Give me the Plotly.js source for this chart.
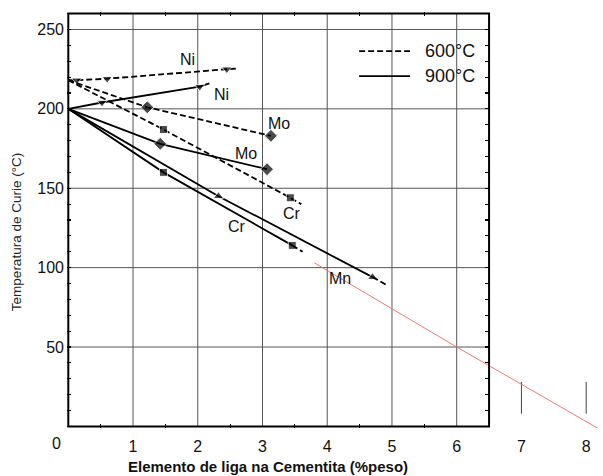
<!DOCTYPE html>
<html>
<head>
<meta charset="utf-8">
<script src="https://cdn.plot.ly/plotly-3.0.1.min.js"></script>
<style>html,body{margin:0;padding:0;background:#fff;}#chart{width:603px;height:476px;}</style>
</head>
<body>
<div id="chart"></div>
<script>
// ---- data ----
// 600 °C series (dashed)
const ni600X = [0, 0.13, 0.6, 2.45, 2.62];
const ni600Y = [218, 218, 219, 225, 225.5];
const ni600M = [0, 9, 9, 9, 0];
const mo600X = [0, 1.22, 3.13];
const mo600Y = [218, 201, 183];
const mo600M = [0, 10, 10];
const cr600X = [0, 1.47, 3.43, 3.6];
const cr600Y = [218, 187, 144, 140];
const cr600M = [0, 8, 8, 0];
// 900 °C series (solid)
const ni900X = [0, 0.52, 2.03, 2.18];
const ni900Y = [200, 204, 214, 216];
const ni900M = [0, 9, 9, 0];
const mo900X = [0, 1.42, 3.07];
const mo900Y = [200, 178, 162];
const mo900M = [0, 10, 10];
const cr900X = [0, 1.47, 3.46];
const cr900Y = [200, 160, 114];
const cr900M = [0, 8, 8];
const cr900TailX = [3.46, 3.62];
const cr900TailY = [114, 110];
const mn900X = [0, 2.32, 4.7];
const mn900Y = [200, 145, 94];
const mn900M = [0, 9, 9];
const mn900TailX = [4.7, 4.92];
const mn900TailY = [94, 89];
// red extrapolation line
const redX = [3.8, 6.0, 8.3];
const redY = [103, 50, -4];
// element labels
const labelText = ["Ni", "Ni", "Mo", "Mo", "Cr", "Cr", "Mn"];
const labelX = [1.84, 2.36, 3.25, 2.74, 3.45, 2.6, 4.2];
const labelY = [231, 209, 191, 172, 134, 126, 93];
// axes
const xTickVals = [1, 2, 3, 4, 5, 6, 7, 8];
const xTickText = ["1", "2", "3", "4", "5", "6", "7", "8"];
const xMinor = [0.5, 1.5, 2.5, 3.5, 4.5, 5.5];
const yTickVals = [50, 100, 150, 200, 250];
const yTickText = ["50", "100", "150", "200", "250"];
const gridX = [1, 2, 3, 4, 5, 6];
const gridY = [50, 100, 150, 200, 250];
const frameX = [0, 6.5];
const frameY = [0, 260];
const stubX = [7, 8];
const legendNames = ["600°C", "900°C"];

// ---- styling ----
const FONT = "Liberation Sans, Arial, sans-serif";
const DASH = "6px,3px";
const LW = 1.8;

function series(x, y, msize, symbol, dash) {
  return {
    x: x, y: y, type: "scatter", mode: "lines+markers",
    line: {color: "#000", width: LW, dash: dash},
    marker: {symbol: symbol, size: msize, color: "#000"},
    showlegend: false, hoverinfo: "x+y", cliponaxis: false
  };
}

const traces = [
  series(ni600X, ni600Y, ni600M, "triangle-down", DASH),
  series(mo600X, mo600Y, mo600M, "diamond", DASH),
  series(cr600X, cr600Y, cr600M, "square", DASH),
  series(ni900X, ni900Y, ni900M, "triangle-down", "solid"),
  series(mo900X, mo900Y, mo900M, "diamond", "solid"),
  series(cr900X, cr900Y, cr900M, "square", "solid"),
  series(mn900X, mn900Y, mn900M, "triangle-up", "solid"),
  {x: cr900TailX, y: cr900TailY, type: "scatter", mode: "lines",
   line: {color: "#000", width: LW, dash: DASH}, showlegend: false},
  {x: mn900TailX, y: mn900TailY, type: "scatter", mode: "lines",
   line: {color: "#000", width: LW, dash: DASH}, showlegend: false},
  {x: redX, y: redY, type: "scatter", mode: "lines",
   line: {color: "#e8797a", width: 1}, showlegend: false},
  // dummy trace so the mirror axes (top / right frame ticks) exist
  {x: [null], y: [null], xaxis: "x2", yaxis: "y2", type: "scatter",
   mode: "lines", showlegend: false, hoverinfo: "skip"}
];

const shapes = [];
gridX.forEach(function (gx) {
  shapes.push({type: "line", xref: "x", yref: "y", x0: gx, x1: gx,
    y0: frameY[0], y1: frameY[1], line: {color: "#555", width: 1}, layer: "below"});
});
gridY.forEach(function (gy) {
  shapes.push({type: "line", xref: "x", yref: "y", x0: frameX[0], x1: frameX[1],
    y0: gy, y1: gy, line: {color: "#555", width: 1}, layer: "below"});
});
stubX.forEach(function (sx) {
  shapes.push({type: "line", xref: "x", yref: "y", x0: sx, x1: sx,
    y0: 8, y1: 28, line: {color: "#444", width: 1}, layer: "below"});
});
// legend background (covers grid)
shapes.push({type: "rect", xref: "paper", yref: "paper", x0: 0.509, x1: 0.782,
  y0: 0.805, y1: 0.952, fillcolor: "#fff", line: {width: 0}, layer: "below"});
// legend line samples
shapes.push({type: "line", xref: "paper", yref: "paper", x0: 0.545, x1: 0.640,
  y0: 0.906, y1: 0.906, line: {color: "#000", width: LW, dash: DASH}});
shapes.push({type: "line", xref: "paper", yref: "paper", x0: 0.545, x1: 0.640,
  y0: 0.846, y1: 0.846, line: {color: "#000", width: LW}});
// plot frame
shapes.push({type: "rect", xref: "x", yref: "y", x0: frameX[0], x1: frameX[1],
  y0: frameY[0], y1: frameY[1], line: {color: "#000", width: 2}, layer: "above"});

const annotations = labelText.map(function (t, i) {
  return {x: labelX[i], y: labelY[i], xref: "x", yref: "y", text: t,
    xanchor: "center", yanchor: "middle",
    showarrow: false, font: {family: FONT, size: 16, color: "#111"}};
});
annotations.push({x: 0, y: 0, xref: "x", yref: "y", text: "0", showarrow: false,
  xanchor: "center", yanchor: "middle",
  xshift: -12, yshift: -17, font: {family: FONT, size: 16, color: "#111"}});
annotations.push({x: 0.664, y: 0.906, xref: "paper", yref: "paper", text: legendNames[0],
  xanchor: "left", yanchor: "middle", showarrow: false, font: {family: FONT, size: 18, color: "#111"}});
annotations.push({x: 0.664, y: 0.846, xref: "paper", yref: "paper", text: legendNames[1],
  xanchor: "left", yanchor: "middle", showarrow: false, font: {family: FONT, size: 18, color: "#111"}});
annotations.push({x: -0.095, y: 0.471, xref: "paper", yref: "paper",
  xanchor: "center", yanchor: "middle",
  text: "Temperatura de Curie (°C)", textangle: -90, showarrow: false,
  font: {family: FONT, size: 13.5, color: "#222"}});
annotations.push({x: 0.375, y: 0, xref: "paper", yref: "paper", yshift: -38,
  xanchor: "center", yanchor: "middle",
  text: "<b>Elemento de liga na Cementita (%peso)</b>", showarrow: false,
  font: {family: FONT, size: 15, color: "#111"}});

const XR = [-0.02, 8.26];
const YR = [-1, 261];

const layout = {
  width: 603, height: 476,
  margin: {l: 67, r: 0, t: 12, b: 48, pad: 0},
  paper_bgcolor: "#fff", plot_bgcolor: "#fff",
  font: {family: FONT, size: 16, color: "#111"},
  showlegend: false,
  xaxis: {range: XR, showgrid: false, zeroline: false, showline: false,
    tickmode: "array", tickvals: xTickVals, ticktext: xTickText, ticks: "",
    ticklabelstandoff: 7,
    tickfont: {family: FONT, size: 16, color: "#111"},
    minor: {tickmode: "array", tickvals: xMinor, ticks: "inside", ticklen: 4,
      tickcolor: "#000", tickwidth: 1.2, showgrid: false}},
  yaxis: {range: YR, showgrid: false, zeroline: false, showline: false,
    tickmode: "array", tickvals: yTickVals, ticktext: yTickText,
    ticks: "inside", ticklen: 4, tickcolor: "#000", tickwidth: 1.2,
    ticklabelstandoff: 2,
    tickfont: {family: FONT, size: 16, color: "#111"},
    minor: {dtick: 10, tick0: 0, ticks: "inside", ticklen: 4, tickcolor: "#000", tickwidth: 1.2, showgrid: false}},
  xaxis2: {range: XR, overlaying: "x", side: "top", anchor: "y2",
    showgrid: false, zeroline: false, showline: false, showticklabels: false,
    tickmode: "array", tickvals: [], ticks: "",
    minor: {tickmode: "array", tickvals: xMinor, ticks: "inside", ticklen: 4,
      tickcolor: "#000", tickwidth: 1.2, showgrid: false}},
  yaxis2: {range: YR, overlaying: "y", side: "right", anchor: "free", position: 0.7874,
    showgrid: false, zeroline: false, showline: false, showticklabels: false,
    tickmode: "array", tickvals: yTickVals, ticks: "inside", ticklen: 4, tickcolor: "#000", tickwidth: 1.2,
    minor: {dtick: 10, tick0: 0, ticks: "inside", ticklen: 4, tickcolor: "#000", tickwidth: 1.2, showgrid: false}},
  shapes: shapes,
  annotations: annotations
};

Plotly.newPlot("chart", traces, layout, {displayModeBar: false, staticPlot: true});
</script>
</body>
</html>
